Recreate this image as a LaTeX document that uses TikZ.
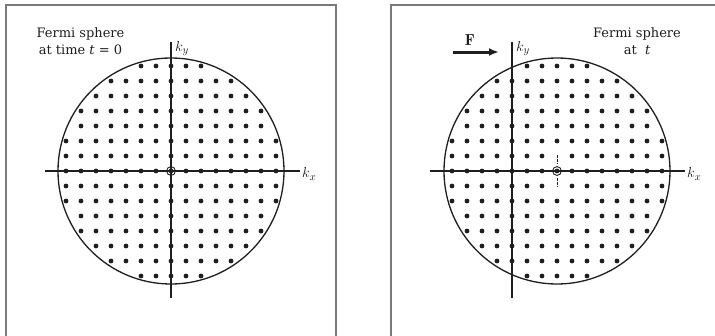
\documentclass[tikz,border=0pt]{standalone}
\usepackage{fontspec}
\newfontfamily\labelfont{DejaVu Serif}
\usetikzlibrary{arrows.meta}
\definecolor{ink}{HTML}{1E1E1E}
\definecolor{framegray}{HTML}{7A7A7A}
\newcommand\FermiDots[2]{%
  \foreach \i in {-7,...,7}{%
    \foreach \j in {-7,...,7}{%
      \pgfmathtruncatemacro\rr{\i*\i+\j*\j}%
      \ifnum\rr<57
        \fill[ink] ({#1+15*\i},{#2+15*\j}) circle (2.4);
      \fi
    }%
  }%
}
\begin{document}
\begin{tikzpicture}[x=1pt,y=-1pt,
  frame/.style={draw=framegray,line width=1.9},
  axisline/.style={draw=ink,line width=1.2},
  sphere/.style={draw=ink,line width=1.3},
  lbl/.style={text=ink,inner sep=0,font=\labelfont\fontsize{13}{17.5}\selectfont,align=center},
  axlbl/.style={text=ink,inner sep=0,font=\fontsize{15}{16}\selectfont}]
\useasboundingbox (0,0) rectangle (715,335);
% frames
\draw[frame] (6,345) -- (6,5) -- (336,5) -- (336,345);
\draw[frame] (391,345) -- (391,5) -- (725,5);
% ---- left panel ----
\coordinate (Lc) at (171,171);
\coordinate (Lxa) at (45,171);
\coordinate (Lxb) at (300,171);
\coordinate (Lya) at (171,42);
\coordinate (Lyb) at (171,298);
\draw[sphere] (Lc) circle (113);
\draw[axisline] (Lxa) -- (Lxb);
\draw[axisline] (Lya) -- (Lyb);
\FermiDots{171}{171}
\draw[ink,line width=0.9] (Lc) circle (4.4);
\node[axlbl,anchor=west] (Lkx) at (302,174) {$k_x$};
\node[axlbl,anchor=north west] (Lky) at (175,41) {$k_y$};
\node[lbl,anchor=north] (Lt) at (80.5,27) {Fermi sphere\\at time {\itshape t} = 0};
% ---- right panel ----
\coordinate (Rc) at (557,171);
\coordinate (Rxa) at (430,171);
\coordinate (Rxb) at (685,171);
\coordinate (Rya) at (512,42);
\coordinate (Ryb) at (512,298);
\draw[sphere] (Rc) circle (113);
\draw[axisline] (Rxa) -- (Rxb);
\draw[axisline] (Rya) -- (Ryb);
\FermiDots{557}{171}
\fill[white] (557,156) circle (2.9) (557,186) circle (2.9);
\coordinate (Rda) at (557,155);
\coordinate (Rdb) at (557,164);
\coordinate (Rdc) at (557,178);
\coordinate (Rdd) at (557,187);
\draw[ink,line width=0.8,dash pattern=on 2.5 off 1.5] (Rda) -- (Rdb) (Rdc) -- (Rdd);
\draw[ink,line width=0.9] (Rc) circle (4.4);
\node[axlbl,anchor=west] (Rkx) at (687,174) {$k_x$};
\node[axlbl,anchor=north west] (Rky) at (516,41) {$k_y$};
\node[lbl,anchor=north] (Rt) at (637,27) {Fermi sphere\\at \ {\itshape t}};
\coordinate (Fa) at (453,52);
\coordinate (Fb) at (499,52);
\draw[ink,line width=3,-{Latex[length=10,width=8]}] (Fa) -- (Fb);
\node[axlbl,anchor=south,font=\fontsize{16}{17}\selectfont] (F) at (470,46) {$\mathbf{F}$};
\end{tikzpicture}
\end{document}
